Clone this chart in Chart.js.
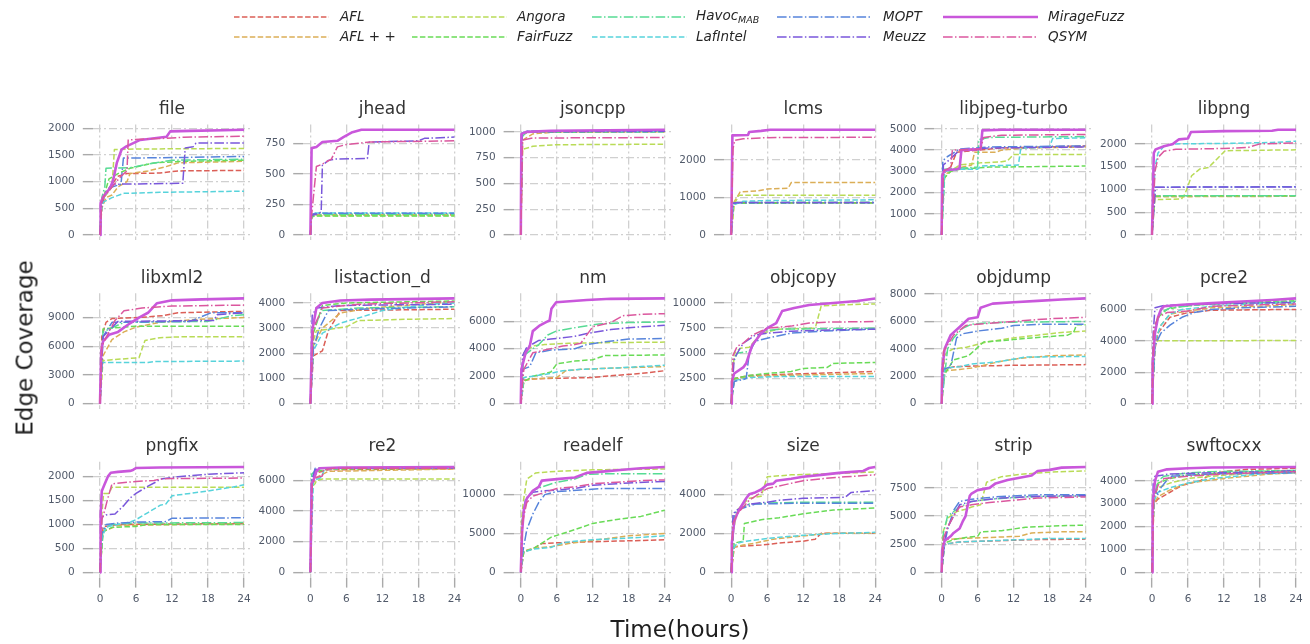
<!DOCTYPE html>
<html><head><meta charset="utf-8">
<script src="https://cdn.jsdelivr.net/npm/chart.js@4.4.1/dist/chart.umd.min.js"></script>
<style>
html,body{margin:0;padding:0;background:#fff;}
#wrap{position:relative;width:1310px;height:644px;overflow:hidden;font-family:'DejaVu Sans',sans-serif;}
#wrap canvas{position:absolute;left:0;top:0;}
.leg{position:absolute;font-style:italic;font-size:13.5px;color:#262626;white-space:nowrap;line-height:1;transform:translateY(-50%);}
.leg sub{font-size:9.5px;vertical-align:-3px;}
.axt{position:absolute;font-size:23px;color:#1e1e1e;white-space:nowrap;line-height:1;}
svg{position:absolute;left:0;top:0;}
</style></head>
<body><div id="wrap"></div>
<script>
// ---------------- data ----------------
const fuzzers = ['AFL','AFL++','Angora','FairFuzz','HavocMAB','LafIntel','MOPT','Meuzz','MirageFuzz','QSYM'];
const legendLabels = ['AFL','AFL + +','Angora','FairFuzz','Havoc<sub>MAB</sub>','LafIntel','MOPT','Meuzz','MirageFuzz','QSYM'];
const programs = ['file','jhead','jsoncpp','lcms','libjpeg-turbo','libpng','libxml2','listaction_d','nm','objcopy','objdump','pcre2','pngfix','re2','readelf','size','strip','swftocxx'];
const xTicks = [0,6,12,18,24];
const yTicks = {
  'file':[0,500,1000,1500,2000], 'jhead':[0,250,500,750], 'jsoncpp':[0,250,500,750,1000],
  'lcms':[0,1000,2000], 'libjpeg-turbo':[0,1000,2000,3000,4000,5000], 'libpng':[0,500,1000,1500,2000],
  'libxml2':[0,3000,6000,9000], 'listaction_d':[0,1000,2000,3000,4000], 'nm':[0,2000,4000,6000],
  'objcopy':[0,2500,5000,7500,10000], 'objdump':[0,2000,4000,6000,8000], 'pcre2':[0,2000,4000,6000],
  'pngfix':[0,500,1000,1500,2000], 're2':[0,2000,4000,6000], 'readelf':[0,5000,10000],
  'size':[0,2000,4000], 'strip':[0,2500,5000,7500], 'swftocxx':[0,1000,2000,3000,4000]
};

// each series: [hours, edges] pairs
const file = {
  'AFL':[[0,0],[0.3,550],[1,800],[2,950],[3,1100],[4.5,1150],[10,1160],[13,1200],[24,1210]],
  'AFL++':[[0,0],[0.3,500],[1,700],[2,750],[3,900],[4.5,1000],[5,1150],[8,1200],[11,1280],[13,1350],[24,1380]],
  'Angora':[[0,0],[0.3,650],[1,750],[2,900],[2.4,1600],[6,1610],[24,1620]],
  'FairFuzz':[[0,0],[0.3,600],[1.5,1050],[3,1150],[5,1250],[9,1350],[14,1380],[24,1400]],
  'HavocMAB':[[0,0],[0.3,700],[0.8,900],[1,1250],[5,1260],[8,1330],[12,1400],[24,1420]],
  'LafIntel':[[0,0],[0.3,550],[0.6,620],[2,700],[4,780],[10,800],[24,820]],
  'MOPT':[[0,0],[0.3,650],[1,800],[2,900],[3.5,950],[3.9,1440],[13,1450],[24,1470]],
  'Meuzz':[[0,0],[0.3,600],[1,800],[2,950],[13.8,970],[14.2,1630],[15.5,1650],[16,1720],[24,1720]],
  'MirageFuzz':[[0,0],[0.1,600],[0.55,720],[1.7,880],[2.2,1030],[2.8,1350],[3.6,1600],[4.4,1660],[6.7,1780],[11.1,1840],[11.7,1940],[15,1950],[20.5,1960],[24,1970]],
  'QSYM':[[0,0],[0.3,600],[0.5,700],[2,900],[3.5,1100],[4.5,1200],[4.7,1780],[8,1800],[11,1810],[14,1830],[24,1850]]
};
const jhead = {
  'AFL':[[0,0],[0.2,160],[1,165],[24,165]],
  'AFL++':[[0,0],[0.2,155],[1,165],[24,165]],
  'Angora':[[0,0],[0.2,150],[1,158],[24,160]],
  'FairFuzz':[[0,0],[0.2,150],[1,155],[24,155]],
  'HavocMAB':[[0,0],[0.2,160],[1,170],[24,170]],
  'LafIntel':[[0,0],[0.2,170],[1,180],[24,180]],
  'MOPT':[[0,0],[0.2,170],[1,178],[24,178]],
  'Meuzz':[[0,0],[0.2,160],[1.5,180],[1.8,190],[2,570],[3,610],[4,620],[9.5,625],[9.8,760],[18,770],[19,790],[24,800]],
  'MirageFuzz':[[0,0],[0.2,710],[1,720],[2,760],[4.5,770],[5.5,800],[7,840],[8.5,860],[24,860]],
  'QSYM':[[0,0],[0.2,160],[1,560],[2,580],[3.5,620],[4.5,720],[6,740],[10,760],[24,770]]
};
const jsoncpp = {
  'AFL':[[0,0],[0.2,960],[1,995],[24,1000]],
  'AFL++':[[0,0],[0.3,920],[2,980],[6,1000],[24,1000]],
  'Angora':[[0,0],[0.3,830],[2,860],[6,875],[24,880]],
  'FairFuzz':[[0,0],[0.2,970],[1,995],[24,1000]],
  'HavocMAB':[[0,0],[0.2,950],[1,1005],[24,1005]],
  'LafIntel':[[0,0],[0.2,970],[1,1005],[24,1000]],
  'MOPT':[[0,0],[0.2,990],[1,1005],[24,1005]],
  'Meuzz':[[0,0],[0.2,980],[1,1000],[24,1005]],
  'MirageFuzz':[[0,0],[0.1,980],[1,1000],[5,1010],[24,1020]],
  'QSYM':[[0,0],[0.3,920],[2,940],[24,945]]
};
const lcms = {
  'AFL':[[0,0],[0.3,840],[1,860],[24,865]],
  'AFL++':[[0,0],[0.5,890],[1.5,1150],[4.5,1180],[6,1230],[9.5,1250],[10,1400],[24,1400]],
  'Angora':[[0,0],[0.5,830],[1.3,1060],[24,1060]],
  'FairFuzz':[[0,0],[0.3,830],[1,850],[24,855]],
  'HavocMAB':[[0,0],[0.3,850],[1,870],[24,875]],
  'LafIntel':[[0,0],[0.3,800],[2,900],[6,920],[24,940]],
  'MOPT':[[0,0],[0.3,840],[1,860],[24,860]],
  'Meuzz':[[0,0],[0.3,850],[1,870],[24,870]],
  'MirageFuzz':[[0,0],[0.2,2660],[2.8,2670],[3,2750],[5,2780],[6.5,2810],[24,2810]],
  'QSYM':[[0,0],[0.3,2300],[0.6,2530],[2,2570],[6,2600],[24,2610]]
};
const libjpeg_turbo = {
  'AFL':[[0,0],[0.3,2900],[1.5,3200],[2.5,3900],[6,4000],[10,4100],[24,4200]],
  'AFL++':[[0,0],[0.3,2800],[2,3100],[5,3300],[5.5,3900],[9,3900],[10,4000],[14,4100],[24,4150]],
  'Angora':[[0,0],[0.3,2600],[1,2900],[3,3300],[6.5,3400],[10,3450],[11,3500],[12,3800],[24,3800]],
  'FairFuzz':[[0,0],[0.5,2700],[1.5,3000],[3,3100],[8,3200],[24,3250]],
  'HavocMAB':[[0,0],[0.5,3100],[6,3200],[6.2,4500],[8,4600],[24,4640]],
  'LafIntel':[[0,0],[0.5,3000],[3,3100],[6,3100],[6.5,3250],[12.8,3300],[13.2,4100],[18,4150],[18.5,4550],[24,4580]],
  'MOPT':[[0,0],[0.2,3500],[1,3700],[3,4050],[8,4150],[24,4200]],
  'Meuzz':[[0,0],[0.3,3300],[1.5,3600],[3,4000],[8,4100],[24,4150]],
  'MirageFuzz':[[0,0],[0.1,2800],[0.5,3050],[2.5,3100],[3,3150],[3.3,4000],[6.5,4050],[6.8,4930],[10,4960],[24,4960]],
  'QSYM':[[0,0],[0.3,3000],[1.5,3200],[1.8,4000],[6.5,4050],[7,4600],[10,4700],[24,4740]]
};
const libpng = {
  'AFL':[[0,0],[0.4,850],[24,855]],
  'AFL++':[[0,0],[0.4,840],[24,850]],
  'Angora':[[0,0],[0.5,800],[1,780],[4.9,790],[5.5,900],[6.6,1300],[8,1450],[9.4,1480],[12.2,1850],[24,1870]],
  'FairFuzz':[[0,0],[0.4,850],[2,860],[24,860]],
  'HavocMAB':[[0,0],[0.4,860],[24,860]],
  'LafIntel':[[0,0],[0.5,1500],[1,1800],[2,1950],[4,2000],[12,2010],[20,2030],[24,2060]],
  'MOPT':[[0,0],[0.5,1050],[24,1060]],
  'Meuzz':[[0,0],[0.6,1050],[24,1055]],
  'MirageFuzz':[[0,0],[0.3,1800],[0.6,1880],[2,1950],[3.5,2000],[4.5,2100],[6,2120],[6.5,2260],[12,2280],[20,2290],[21,2310],[24,2310]],
  'QSYM':[[0,0],[0.5,1400],[1,1700],[2,1840],[4,1880],[12,1900],[16,1920],[18,2000],[24,2020]]
};
const libxml2 = {
  'AFL':[[0,0],[0.3,7000],[1,8500],[2,8900],[6.5,9000],[10.5,9200],[13,9500],[24,9650]],
  'AFL++':[[0,0],[0.5,5000],[2,6700],[4,7500],[6,8000],[10,8500],[16,8800],[24,9000]],
  'Angora':[[0,0],[0.5,4500],[2,4600],[6.5,4800],[7.5,6600],[10,6900],[14,7000],[24,7000]],
  'FairFuzz':[[0,0],[0.5,7800],[2,7900],[6,8100],[24,8100]],
  'HavocMAB':[[0,0],[0.5,7500],[4,8500],[18,8600],[22,9200],[24,9300]],
  'LafIntel':[[0,0],[0.3,4300],[8,4300],[9,4400],[24,4450]],
  'MOPT':[[0,0],[0.5,7000],[2,8500],[15,8600],[18.5,9500],[24,9500]],
  'Meuzz':[[0,0],[0.5,7000],[3,8600],[19,8700],[19.5,9300],[24,9500]],
  'MirageFuzz':[[0,0],[0.2,5500],[0.5,6500],[1.5,7200],[3,7500],[5,8400],[6.5,9000],[8,9500],[9.5,10500],[12,10800],[17,10900],[24,11000]],
  'QSYM':[[0,0],[0.3,6000],[1.5,7500],[2.5,8700],[4,9700],[7,10000],[12,10200],[24,10300]]
};
const listaction_d = {
  'AFL':[[0,0],[0.5,1900],[2,2100],[3,2900],[5,3700],[24,3750]],
  'AFL++':[[0,0],[0.5,2300],[2,3000],[5,3600],[10,3800],[24,4050]],
  'Angora':[[0,0],[0.5,2500],[1,2900],[3,2950],[6,3050],[8,3300],[16,3350],[24,3380]],
  'FairFuzz':[[0,0],[0.5,2800],[2,3900],[6,4000],[24,4080]],
  'HavocMAB':[[0,0],[0.5,3000],[2,3700],[8,3800],[24,3850]],
  'LafIntel':[[0,0],[0.5,2100],[2,2800],[5,3200],[8,3400],[12,3700],[20,3950],[24,4000]],
  'MOPT':[[0,0],[0.5,2200],[1.5,3000],[3,3700],[8,3750],[24,3850]],
  'Meuzz':[[0,0],[0.3,3500],[1,3800],[5,3900],[24,3950]],
  'MirageFuzz':[[0,0],[0.3,2900],[1,3800],[2,4000],[5,4100],[10,4130],[24,4180]],
  'QSYM':[[0,0],[0.5,3000],[2,3800],[8,3950],[24,4050]]
};
const nm = {
  'AFL':[[0,0],[0.5,1700],[2,1800],[6,1850],[12,1900],[14,2000],[20,2200],[24,2400]],
  'AFL++':[[0,0],[0.5,1700],[2,1800],[6,1900],[7.5,2400],[10,2500],[16,2600],[24,2700]],
  'Angora':[[0,0],[0.5,3700],[2,4200],[4,4300],[8,4400],[16,4450],[24,4480]],
  'FairFuzz':[[0,0],[0.5,1600],[2,2000],[5,2300],[6,2900],[9,3100],[12,3200],[14,3500],[24,3550]],
  'HavocMAB':[[0,0],[0.5,3500],[2,4000],[3,4300],[4.5,5000],[6,5300],[10,5600],[13,5800],[18,5900],[24,5950]],
  'LafIntel':[[0,0],[0.5,1900],[2,2000],[5,2200],[7,2400],[10,2500],[16,2600],[20,2700],[24,2800]],
  'MOPT':[[0,0],[0.3,2500],[1.5,2700],[2.5,3700],[5,3900],[9,4000],[11,4300],[14,4500],[18,4700],[24,4750]],
  'Meuzz':[[0,0],[0.3,3500],[1,4100],[3,4600],[5,4700],[9,4900],[11,5100],[15,5400],[20,5600],[24,5700]],
  'MirageFuzz':[[0,0],[0.1,2500],[0.8,3700],[1.5,4200],[2,5280],[3.2,5700],[4.3,5950],[4.8,6050],[5.1,6900],[5.9,7380],[11,7550],[15,7630],[24,7660]],
  'QSYM':[[0,0],[0.5,2500],[2,3700],[4,3900],[7,4200],[9,4300],[10,4400],[12,5600],[15,5900],[17,6400],[20,6500],[24,6550]]
};
const objcopy = {
  'AFL':[[0,0],[0.5,2500],[3,2800],[8,2900],[13,3000],[24,3200]],
  'AFL++':[[0,0],[0.5,2400],[3,2700],[8,2800],[16,2900],[24,3000]],
  'Angora':[[0,0],[0.5,5000],[1.5,5500],[3,5600],[5,7000],[8,7400],[14,7500],[15,9700],[18,9800],[24,9900]],
  'FairFuzz':[[0,0],[0.5,2500],[3,2800],[6,3000],[10,3200],[12,3500],[16,3600],[17,4000],[24,4100]],
  'HavocMAB':[[0,0],[0.3,4000],[1,5000],[3,5200],[5,7200],[8,7400],[24,7500]],
  'LafIntel':[[0,0],[0.5,2300],[3,2600],[8,2700],[24,2700]],
  'MOPT':[[0,0],[0.5,2200],[2,2400],[2.5,2500],[3,5000],[4,6200],[6,6500],[10,7000],[15,7200],[24,7400]],
  'Meuzz':[[0,0],[0.5,4500],[2,6000],[4,6800],[6,7000],[10,7200],[15,7300],[24,7400]],
  'MirageFuzz':[[0,0],[0.1,2200],[0.5,3000],[2,3600],[2.5,4000],[3.5,5800],[5,7000],[6,7500],[7.5,8000],[8.5,9200],[10.5,9500],[13,9800],[17,10000],[21,10200],[24,10450]],
  'QSYM':[[0,0],[0.3,4800],[1,5700],[2,6000],[3.5,6800],[6,7500],[10,7700],[13,8000],[16,8100],[24,8150]]
};
const objdump = {
  'AFL':[[0,0],[0.5,2500],[2,2700],[6,2750],[12,2800],[24,2850]],
  'AFL++':[[0,0],[0.5,2400],[3,2500],[5,2600],[7,2800],[10,3100],[13,3300],[18,3500],[24,3550]],
  'Angora':[[0,0],[0.5,3500],[1,3800],[2,4000],[4,4100],[7.5,4500],[12,4800],[16,5000],[20,5200],[24,5300]],
  'FairFuzz':[[0,0],[0.3,2000],[1,2500],[2,3200],[4.5,3500],[7,4500],[10,4600],[15,4800],[21,5000],[22,5200],[22.5,5750],[24,5750]],
  'HavocMAB':[[0,0],[1,4000],[2,4800],[3.5,5500],[5,5800],[8,5900],[12,5950],[24,6000]],
  'LafIntel':[[0,0],[0.5,2600],[3,2700],[5,2900],[8,3000],[10,3100],[14,3400],[24,3450]],
  'MOPT':[[0,0],[0.3,2500],[1.5,2700],[2.5,4800],[3.5,5100],[6,5300],[10,5500],[12,5700],[17,5800],[24,5800]],
  'Meuzz':[],
  'MirageFuzz':[[0,0],[0.1,2500],[0.5,4000],[1.5,5000],[3,5600],[4.5,6200],[6,6300],[6.5,7000],[8.5,7300],[12,7400],[16,7500],[20,7600],[24,7680]],
  'QSYM':[[0,0],[0.3,3800],[2,5000],[4,5700],[6,5800],[12,6000],[18,6200],[24,6300]]
};
const pcre2 = {
  'AFL':[[0,0],[0.5,3500],[1,4500],[2,5000],[3,5500],[6,5800],[10,5950],[24,6000]],
  'AFL++':[[0,0],[0.5,4000],[1.5,5000],[3,5700],[6,5900],[10,6100],[18,6200],[24,6300]],
  'Angora':[[0,0],[0.5,3900],[1,4000],[24,4020]],
  'FairFuzz':[[0,0],[0.5,4500],[1,5500],[2.5,6000],[5,6200],[12,6400],[24,6550]],
  'HavocMAB':[[0,0],[0.5,5000],[1.5,5800],[3,6100],[8,6300],[15,6400],[24,6500]],
  'LafIntel':[[0,0],[0.5,4000],[1.5,5000],[3,5700],[5,6000],[10,6200],[20,6400],[24,6400]],
  'MOPT':[[0,0],[0.5,3700],[1.5,4500],[3,5000],[5,5500],[7,5800],[10,6000],[15,6100],[24,6200]],
  'Meuzz':[[0,0],[0.2,4500],[0.5,6100],[2,6250],[5,6300],[10,6350],[16,6400],[24,6450]],
  'MirageFuzz':[[0,0],[0.1,2500],[0.5,4500],[1,5500],[1.5,6000],[2,6200],[5,6300],[10,6400],[15,6500],[20,6600],[24,6700]],
  'QSYM':[[0,0],[0.3,4800],[1,5500],[2.5,5800],[6,5900],[10,6200],[18,6300],[24,6350]]
};
const pngfix = {
  'AFL':[[0,0],[0.5,950],[3,1000],[24,1020]],
  'AFL++':[[0,0],[0.5,850],[3,980],[24,1020]],
  'Angora':[[0,0],[0.3,1200],[0.6,1650],[1.5,1650],[2,1780],[24,1780]],
  'FairFuzz':[[0,0],[0.5,850],[2,940],[6,960],[8,1000],[24,1000]],
  'HavocMAB':[[0,0],[0.5,900],[2,1000],[6,1030],[24,1040]],
  'LafIntel':[[0,0],[0.3,700],[1,950],[3,1000],[5,1050],[6,1100],[8,1250],[10,1400],[11,1430],[12,1600],[15,1650],[18,1700],[22,1780],[24,1830]],
  'MOPT':[[0,0],[0.3,800],[1,1000],[3,1030],[6,1050],[11,1060],[12,1130],[24,1140]],
  'Meuzz':[[0,0],[0.3,1150],[1,1200],[2.5,1220],[4,1400],[5,1550],[6,1650],[8,1800],[9.5,1900],[10,1950],[13,2000],[18,2050],[24,2080]],
  'MirageFuzz':[[0,0],[0.1,1200],[0.3,1700],[0.8,1850],[1.3,2000],[1.8,2080],[3,2100],[5,2120],[5.5,2140],[6,2180],[10,2190],[24,2200]],
  'QSYM':[[0,0],[0.3,1100],[0.8,1300],[1.2,1500],[2,1850],[6,1900],[9,1920],[10,1950],[12,1960],[24,1970]]
};
const re2 = {
  'AFL':[[0,0],[0.3,5900],[1,6500],[3,6700],[24,6780]],
  'AFL++':[[0,0],[0.3,5700],[1,6200],[3,6600],[24,6750]],
  'Angora':[[0,0],[0.3,5600],[0.8,5800],[1,6000],[2,6100],[24,6100]],
  'FairFuzz':[[0,0],[0.3,6000],[1,6600],[3,6750],[24,6800]],
  'HavocMAB':[[0,0],[0.2,6400],[1,6700],[2,6800],[24,6820]],
  'LafIntel':[[0,0],[0.5,6000],[1.8,6200],[2.3,6700],[5,6800],[24,6820]],
  'MOPT':[[0,0],[0.2,6000],[0.8,6800],[24,6820]],
  'Meuzz':[[0,0],[0.3,6000],[0.8,6700],[1.5,6800],[24,6830]],
  'MirageFuzz':[[0,0],[0.2,5800],[0.5,6000],[1,6600],[1.5,6800],[5,6850],[24,6880]],
  'QSYM':[[0,0],[0.3,5900],[1,6200],[2,6300],[2.2,6700],[4,6800],[24,6800]]
};
const readelf = {
  'AFL':[[0,0],[0.5,2700],[2,3000],[3.5,3700],[6,3800],[10,3900],[15,4000],[20,4100],[24,4200]],
  'AFL++':[[0,0],[0.5,2700],[2,3100],[5,3300],[8,3700],[11,4000],[14,4300],[18,4700],[24,5000]],
  'Angora':[[0,0],[0.1,6500],[0.4,9000],[1,12000],[2.5,12800],[6,13000],[12,13200],[24,13300]],
  'FairFuzz':[[0,0],[0.5,2700],[2,3000],[3,3500],[5,4500],[7,5000],[9,5500],[12,6300],[16,6800],[20,7200],[24,8000]],
  'HavocMAB':[[0,0],[0.3,7000],[1,9500],[2,10500],[3.5,11000],[6,11600],[9,12000],[11,12600],[15,12700],[24,12700]],
  'LafIntel':[[0,0],[0.3,2500],[2,3000],[5,3200],[7,3800],[9,4000],[12,4200],[15,4300],[20,4500],[24,4700]],
  'MOPT':[[0,0],[0.3,2500],[1,5500],[2,7500],[3,9000],[4,10000],[6,10400],[10,10600],[14,10800],[24,10800]],
  'Meuzz':[[0,0],[0.3,7000],[0.8,9500],[2,10300],[4,10500],[6,10600],[9,10800],[12,11200],[18,11500],[24,11700]],
  'MirageFuzz':[[0,0],[0.2,5000],[0.5,8000],[1,9500],[2,10500],[3,11000],[3.5,11800],[6,12000],[9,12200],[11,12800],[14,13000],[17,13200],[20,13400],[24,13550]],
  'QSYM':[[0,0],[0.3,6500],[1,9000],[2,9800],[4,10300],[6,10800],[9,11000],[12,11400],[16,11600],[20,11800],[24,11900]]
};
const size = {
  'AFL':[[0,0],[0.5,1300],[2,1350],[5,1400],[8,1500],[12,1600],[14,1700],[15,2000],[24,2000]],
  'AFL++':[[0,0],[0.5,1300],[2,1400],[4,1500],[7,1700],[10,1800],[13,1900],[16,2000],[24,2000]],
  'Angora':[[0,0],[0.3,2000],[1,3200],[3,3800],[5,3900],[6,4900],[10,5000],[15,5050],[20,5100],[24,5150]],
  'FairFuzz':[[0,0],[0.5,1500],[2,1600],[2.2,2500],[5,2700],[8,2800],[12,3000],[17,3200],[24,3300]],
  'HavocMAB':[[0,0],[0.5,2800],[1,3200],[3,3500],[6,3550],[12,3600],[24,3600]],
  'LafIntel':[[0,0],[0.3,1200],[1,1500],[2.5,1600],[5,1700],[8,1800],[12,1900],[18,2000],[24,2050]],
  'MOPT':[[0,0],[0.5,3000],[1,3200],[2,3300],[4,3500],[12,3550],[24,3550]],
  'Meuzz':[[0,0],[0.3,3000],[1,3200],[3,3500],[6,3600],[8,3700],[12,3800],[19,3850],[20,4100],[24,4200]],
  'MirageFuzz':[[0,0],[0.1,1500],[0.5,2600],[1,3000],[1.5,3300],[2.5,3800],[3,4000],[4,4100],[5,4250],[6,4500],[7,4550],[7.5,4700],[10,4800],[12,4900],[15,5000],[18,5100],[22,5200],[23,5350],[24,5400]],
  'QSYM':[[0,0],[0.3,2500],[1,3000],[3,3700],[4,3900],[6,4300],[9,4500],[12,4700],[15,4800],[19,4900],[24,5000]]
};
const strip = {
  'AFL':[[0,0],[0.5,2500],[3,2700],[9,2800],[15,2900],[24,2950]],
  'AFL++':[[0,0],[0.5,2900],[3,3000],[8,3100],[13,3200],[15,3500],[20,3600],[24,3600]],
  'Angora':[[0,0],[0.2,3500],[1,4800],[2.5,5400],[4,5600],[5,5800],[6.5,6000],[7.5,8000],[10,8500],[13,8700],[18,8900],[24,9000]],
  'FairFuzz':[[0,0],[0.5,2600],[2,2900],[4,3100],[6,3200],[6.5,3600],[10,3700],[14,4000],[18,4100],[24,4200]],
  'HavocMAB':[[0,0],[0.3,3500],[1,5000],[3,5800],[5,6300],[8,6500],[14,6700],[24,6800]],
  'LafIntel':[[0,0],[0.5,2500],[3,2700],[8,2800],[13,2900],[18,3000],[24,3000]],
  'MOPT':[[0,0],[0.3,2000],[1,3800],[2,5500],[3,6300],[5,6500],[9,6700],[16,6900],[24,6900]],
  'Meuzz':[[0,0],[0.5,2800],[1,4000],[2,5000],[3,6000],[5,6300],[10,6600],[16,6750],[24,6800]],
  'MirageFuzz':[[0,0],[0.1,2000],[0.5,2800],[1.5,3200],[2,3500],[3,3900],[3.5,4500],[4,5000],[4.3,5800],[4.7,6800],[5,7000],[6,7300],[8,7500],[9,7900],[11,8200],[13,8400],[15,8600],[16,9000],[18,9100],[20,9300],[24,9350]],
  'QSYM':[[0,0],[0.3,3000],[1,4000],[2,5000],[3,5800],[5,6000],[8,6200],[12,6400],[16,6600],[24,6700]]
};
const swftocxx = {
  'AFL':[[0,0],[0.3,3000],[1,3200],[3,3500],[5,3800],[8,4000],[10,4300],[12,4400],[16,4500],[24,4550]],
  'AFL++':[[0,0],[0.3,3000],[1,3300],[3,3600],[6,3900],[9,4000],[12,4100],[16,4200],[20,4300],[24,4350]],
  'Angora':[[0,0],[0.3,3300],[1,3700],[3,3900],[6,4100],[10,4200],[15,4300],[24,4400]],
  'FairFuzz':[[0,0],[0.3,3300],[1,3900],[3,4100],[6,4250],[10,4300],[16,4400],[24,4450]],
  'HavocMAB':[[0,0],[0.3,3200],[1,4000],[2,4200],[6,4350],[10,4400],[24,4450]],
  'LafIntel':[[0,0],[0.3,3100],[1,3500],[3,3700],[6,3900],[10,4100],[14,4200],[18,4300],[24,4350]],
  'MOPT':[[0,0],[0.3,3600],[1,3400],[1.5,3700],[3,4200],[10,4300],[24,4350]],
  'Meuzz':[[0,0],[0.2,3900],[0.5,4200],[3,4300],[10,4350],[20,4400],[24,4450]],
  'MirageFuzz':[[0,0],[0.1,3000],[0.5,4000],[1,4400],[2.5,4500],[6,4550],[10,4580],[24,4600]],
  'QSYM':[[0,0],[0.3,3200],[1,3800],[2,4100],[6,4200],[12,4300],[24,4400]]
};
const panelSeries = [file,jhead,jsoncpp,lcms,libjpeg_turbo,libpng,libxml2,listaction_d,nm,objcopy,objdump,pcre2,pngfix,re2,readelf,size,strip,swftocxx];

// ---------------- styles ----------------
const colors = ['#db5f57','#dbae57','#b9db57','#69db57','#57db94','#57d3db','#5784db','#7957db','#c957db','#db579e'];
const DASH = [5.5,2.4], DASHDOT = [9.6,2.4,1.5,2.4];
const dashes = [DASH,DASH,DASH,DASH,DASHDOT,DASH,DASHDOT,DASHDOT,[],DASHDOT];
const widths = [1.5,1.5,1.5,1.5,1.5,1.5,1.5,1.5,2.6,1.5];
const W = 1310, H = 644;
const gridColor = '#d0d0d0', tickColor = '#aaaaaa', labelColor = '#515a6a';
const GRID_DASH = [8,3,2,3];

const wrap = document.getElementById('wrap');

const titlePlugin = {
  id: 'panelTitle',
  afterDraw(chart, args, opts) {
    const a = chart.chartArea, ctx = chart.ctx;
    ctx.save();
    ctx.font = '17px "DejaVu Sans"';
    ctx.fillStyle = '#333333';
    ctx.textAlign = 'center';
    ctx.textBaseline = 'alphabetic';
    ctx.fillText(opts.text, (a.left + a.right) / 2, a.top - 10.5);
    ctx.restore();
  }
};

const YW = 60, XH = 30;
programs.forEach((name, idx) => {
  const r = Math.floor(idx / 6), c = idx % 6;
  const x0 = 100 + 210.4 * c, y0 = 235 + 168.65 * r;
  const PL = x0 - 7.2, PR = x0 + 151.2, PT = y0 - 110.5, PB = y0 + 5.3;
  const series = panelSeries[idx];
  let M = 0;
  fuzzers.forEach(f => series[f].forEach(p => { if (p[1] > M) M = p[1]; }));
  const cv = document.createElement('canvas');
  cv.width = W; cv.height = H;
  wrap.appendChild(cv);
  const bottomRow = r === 2;
  const yt = yTicks[name];
  new Chart(cv, {
    type: 'line',
    data: {
      datasets: fuzzers.map((f, j) => ({
        label: f, data: series[f],
        borderColor: colors[j], backgroundColor: colors[j],
        borderWidth: widths[j], borderDash: dashes[j],
        borderJoinStyle: 'round', pointRadius: 0, fill: false, tension: 0,
        order: -j
      }))
    },
    options: {
      responsive: false, animation: false, devicePixelRatio: 1, events: [],
      layout: { padding: { left: PL - YW, top: PT, right: W - PR, bottom: H - PB - XH } },
      plugins: { legend: { display: false }, tooltip: { enabled: false }, panelTitle: { text: name } },
      scales: {
        x: {
          type: 'linear', min: -1.2, max: 25.2,
          afterBuildTicks: s => { s.ticks = xTicks.map(v => ({ value: v })); },
          afterFit: s => { s.height = XH; },
          grid: { color: gridColor, lineWidth: 1.3, drawTicks: bottomRow, tickLength: 10, tickColor: tickColor, tickWidth: 1.4, tickBorderDash: [] },
          border: { display: false, dash: GRID_DASH },
          ticks: { display: bottomRow, padding: 5, color: labelColor, maxRotation: 0, autoSkip: false,
                   font: { family: 'DejaVu Sans', size: 10.5 }, callback: v => String(v) }
        },
        y: {
          type: 'linear', min: -0.05 * M, max: 1.05 * M,
          afterBuildTicks: s => { s.ticks = yt.map(v => ({ value: v })); },
          afterFit: s => { s.width = YW; },
          grid: { color: gridColor, lineWidth: 1.3, drawTicks: true, tickLength: 10, tickColor: tickColor, tickWidth: 1.4, tickBorderDash: [] },
          border: { display: false, dash: GRID_DASH },
          ticks: { padding: 8, color: labelColor, autoSkip: false,
                   font: { family: 'DejaVu Sans', size: 10.5 }, callback: v => String(v) }
        }
      }
    },
    plugins: [titlePlugin]
  });
});

// ---------------- legend & axis titles ----------------
const lineX = [234, 412, 592, 777, 943], labelX = [340, 517, 696, 883, 1048];
const LEN = 95;
const svgNS = 'http://www.w3.org/2000/svg';
const svg = document.createElementNS(svgNS, 'svg');
svg.setAttribute('width', W); svg.setAttribute('height', 60);
wrap.appendChild(svg);
fuzzers.forEach((f, j) => {
  const col = Math.floor(j / 2), row = j % 2;
  const y = 17 + 20 * row;
  const ln = document.createElementNS(svgNS, 'line');
  ln.setAttribute('x1', lineX[col]); ln.setAttribute('x2', lineX[col] + LEN);
  ln.setAttribute('y1', y); ln.setAttribute('y2', y);
  ln.setAttribute('stroke', colors[j]); ln.setAttribute('stroke-width', widths[j]);
  if (dashes[j].length) ln.setAttribute('stroke-dasharray', dashes[j].join(' '));
  svg.appendChild(ln);
  const d = document.createElement('div');
  d.className = 'leg';
  d.innerHTML = legendLabels[j];
  d.style.left = labelX[col] + 'px';
  d.style.top = y + 'px';
  wrap.appendChild(d);
});
const yl = document.createElement('div');
yl.className = 'axt'; yl.textContent = 'Edge Coverage';
yl.style.left = '25px'; yl.style.top = '348px';
yl.style.transform = 'translate(-50%,-50%) rotate(-90deg)';
wrap.appendChild(yl);
const xl = document.createElement('div');
xl.className = 'axt'; xl.textContent = 'Time(hours)';
xl.style.left = '680px'; xl.style.top = '629px';
xl.style.transform = 'translate(-50%,-50%)';
wrap.appendChild(xl);
</script>
</body></html>
